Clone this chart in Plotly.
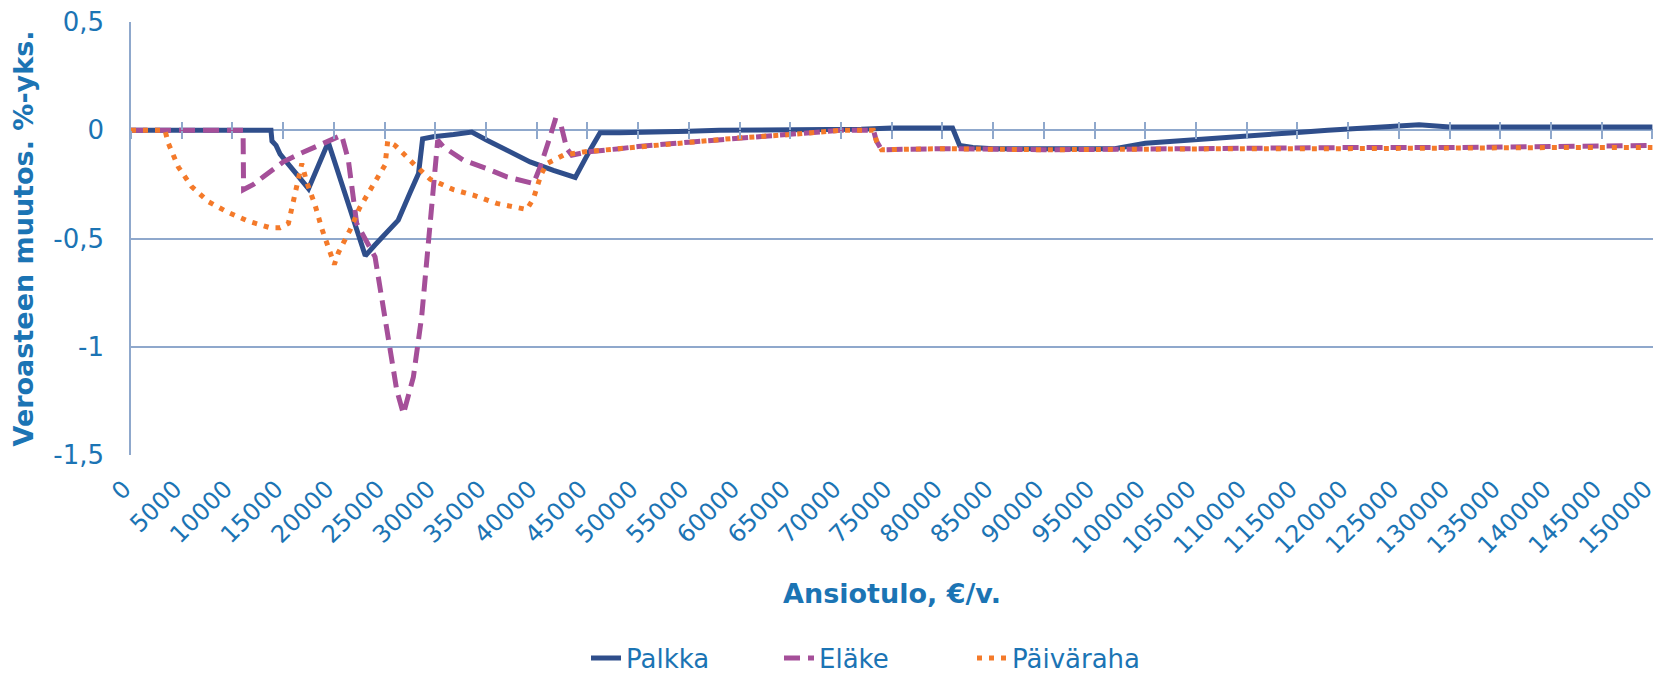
import plotly.graph_objects as go

# Palkka (solid)
palkka_x = [0, 13800, 13900, 14300, 14700, 17500, 19450, 21600, 23100, 24050, 26350, 27500,
            28350, 28750, 29800, 31800, 33600, 35100, 39350, 41650, 43800, 45250, 46250, 48200,
            52000, 55000, 58000, 65000, 72000, 75000, 81000, 81700, 83000, 85000, 92000, 97000,
            100000, 105000, 110000, 115000, 118000, 120000, 124000, 127000, 130000, 140000, 150000]
palkka_y = [0, 0, -0.05, -0.07, -0.11, -0.27, -0.055, -0.37, -0.58, -0.53, -0.415, -0.29,
            -0.2, -0.04, -0.03, -0.02, -0.008, -0.046, -0.146, -0.185, -0.218, -0.092, -0.011, -0.011,
            -0.01, -0.005, 0, 0, 0.005, 0.01, 0.01, -0.07, -0.08, -0.085, -0.088, -0.085,
            -0.06, -0.045, -0.03, -0.01, 0, 0.005, 0.02, 0.025, 0.015, 0.015, 0.015]

# Eläke (dashed)
elake_x = [0, 11050, 11100, 12070, 13050, 15020, 16670, 18960, 20770, 21430, 22250, 24060,
           25210, 26200, 26860, 27840, 28660, 29320, 29980, 30240, 30800, 32770, 35070, 37050,
           39680, 40340, 41320, 41810, 42310, 42970, 43460, 44940, 48200, 50000, 55000, 60000,
           65000, 70000, 73200, 73500, 74000, 80000, 90000, 100000, 110000, 120000, 130000,
           140000, 150000]
elake_y = [0, 0, -0.274, -0.25, -0.215, -0.146, -0.108, -0.06, -0.023, -0.138, -0.43, -0.585,
           -0.91, -1.2, -1.31, -1.14, -0.86, -0.51, -0.17, -0.046, -0.077, -0.138, -0.177, -0.215,
           -0.246, -0.17, -0.03, 0.046, 0.04, -0.085, -0.115, -0.1, -0.085, -0.075, -0.055, -0.035,
           -0.02, 0.0, 0.0, -0.05, -0.09, -0.085, -0.09, -0.085, -0.08, -0.08, -0.08,
           -0.075, -0.07]

# Päiväraha (dotted)
paivaraha_x = [0, 3350, 3680, 4670, 5980, 7630, 9600, 11570, 13710, 14700, 15520, 16010, 16340,
               16840, 17330, 18150, 18810, 19630, 20050, 20450, 21000, 21600, 22520, 23740, 25050,
               25310, 26040, 27840, 29490, 31790, 33760, 36060, 39020, 39680, 40400, 40990,
               42640, 44610, 47900, 50000, 55000, 60000, 65000, 70000, 73200, 73500, 74000,
               80000, 90000, 100000, 110000, 120000, 130000, 140000, 150000]
paivaraha_y = [0, 0, -0.06, -0.17, -0.26, -0.33, -0.38, -0.42, -0.45, -0.45, -0.43, -0.32, -0.24,
               -0.154, -0.24, -0.346, -0.454, -0.565, -0.62, -0.565, -0.515, -0.46, -0.36, -0.26, -0.16,
               -0.05, -0.07, -0.154, -0.226, -0.274, -0.3, -0.338, -0.366, -0.315, -0.208, -0.154,
               -0.115, -0.1, -0.085, -0.075, -0.055, -0.035, -0.02, 0.0, 0.0, -0.05, -0.09,
               -0.085, -0.09, -0.085, -0.085, -0.085, -0.08, -0.08, -0.08]

x_ticks = list(range(0, 150001, 5000))
y_ticks = [0.5, 0, -0.5, -1, -1.5]
y_tick_text = ["0,5", "0", "-0,5", "-1", "-1,5"]

TXT = "#1B74B4"
GRID = "#8FA8CC"
FONT = "DejaVu Sans, Verdana, sans-serif"
XMAX = 150060

fig = go.Figure()
fig.add_trace(go.Scatter(x=palkka_x, y=palkka_y, mode="lines", name="Palkka",
                         line=dict(color="#2F4E8B", width=5)))
fig.add_trace(go.Scatter(x=elake_x, y=elake_y, mode="lines", name="Eläke",
                         line=dict(color="#A54F99", width=5, dash="16px,8px")))
fig.add_trace(go.Scatter(x=paivaraha_x, y=paivaraha_y, mode="lines", name="Päiväraha",
                         line=dict(color="#F47A2A", width=5, dash="5px,7px")))

fig.update_layout(
    width=1659, height=677,
    margin=dict(l=131, r=6, t=22, b=222, autoexpand=False),
    paper_bgcolor="white", plot_bgcolor="white",
    font=dict(family=FONT, color=TXT, size=26),
    showlegend=True,
    legend=dict(orientation="h", xref="container", yref="container",
                x=586 / 1659, xanchor="left", y=1 - 658 / 677, yanchor="middle",
                font=dict(size=26, color=TXT), entrywidth=148, entrywidthmode="pixels",
                bgcolor="rgba(0,0,0,0)"),
    xaxis=dict(range=[0, XMAX], tickvals=x_ticks, ticktext=[str(v) for v in x_ticks],
               tickangle=-45, showgrid=False, zeroline=False, showline=False,
               ticks="", tickfont=dict(size=24, color=TXT), automargin=False,
               ticklabelstandoff=14, ticklabelshift=-7, ticklabeloverflow="allow",
               title=dict(text="<b>Ansiotulo, €/v.</b>", font=dict(size=27, color=TXT), standoff=25)),
    yaxis=dict(range=[-1.5, 0.5], tickvals=y_ticks, ticktext=y_tick_text,
               showgrid=True, gridcolor=GRID, gridwidth=1.5, zeroline=False,
               showline=True, linecolor=GRID, linewidth=1.5, ticks="",
               tickfont=dict(size=26, color=TXT), domain=[0, 1], automargin=False,
               ticklabelstandoff=20,
               title=dict(text="<b>Veroasteen muutos. %-yks.</b>", font=dict(size=27, color=TXT),
                          standoff=12)),
    xaxis2=dict(overlaying="x", anchor="free", position=0.75, range=[0, XMAX],
                tickvals=x_ticks, showticklabels=False, ticks="inside", ticklen=8,
                tickcolor=GRID, tickwidth=1.5, showline=False, showgrid=False, zeroline=False),
    xaxis3=dict(overlaying="x", anchor="free", position=0.75, range=[0, XMAX],
                tickvals=x_ticks, showticklabels=False, ticks="outside", ticklen=8,
                tickcolor=GRID, tickwidth=1.5, showline=False, showgrid=False, zeroline=False),
)
fig.add_trace(go.Scatter(x=[0], y=[0], xaxis="x2", mode="lines", showlegend=False,
                         hoverinfo="skip", line=dict(width=0)))
fig.add_trace(go.Scatter(x=[0], y=[0], xaxis="x3", mode="lines", showlegend=False,
                         hoverinfo="skip", line=dict(width=0)))

fig.write_html("out.html", config={"displayModeBar": False},
               post_script="document.body.style.margin='0px';document.body.style.overflow='hidden';")
